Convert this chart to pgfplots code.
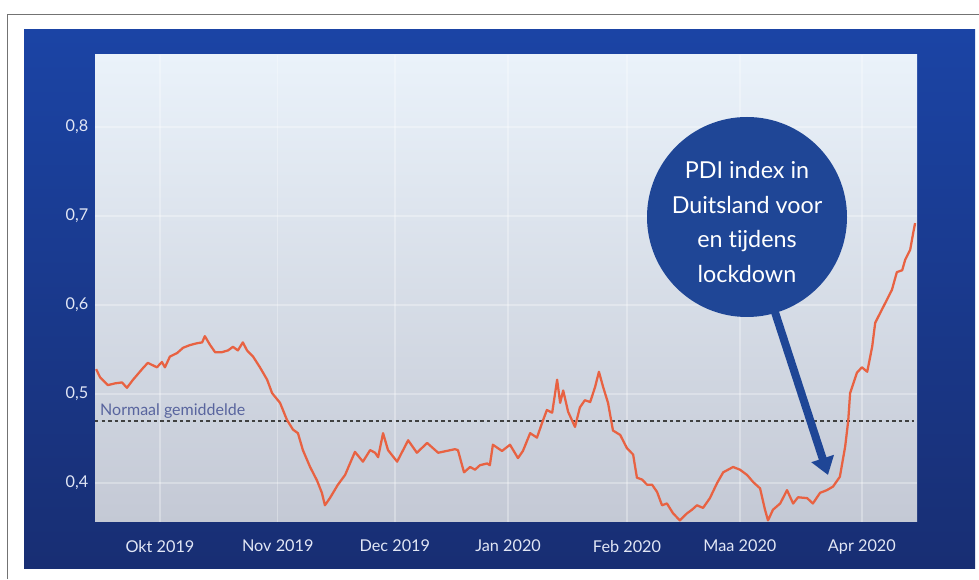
\documentclass[border=0pt]{standalone}
\usepackage{pgfplots}
\pgfplotsset{compat=1.18}
\usepackage{pgfplotstable}
\usepackage{fontspec}
\setmainfont{Lato}[Ligatures=NoCommon]
\usetikzlibrary{arrows.meta}

\definecolor{panelTop}{RGB}{27,68,165}
\definecolor{panelBot}{RGB}{24,46,115}
\definecolor{plotTop}{RGB}{234,242,250}
\definecolor{plotMid}{RGB}{223,230,241}
\definecolor{plotBot}{RGB}{196,201,213}
\definecolor{pdiline}{RGB}{232,98,66}
\definecolor{callout}{RGB}{31,70,150}
\definecolor{ticktext}{RGB}{225,230,245}
\definecolor{avgtext}{RGB}{88,100,158}

% days counted from 1 Oct 2019
\pgfplotstableread{
day pdi
-16.8 0.528
-15.8 0.519
-13.7 0.510
-11.8 0.512
-10.0 0.513
-8.7 0.507
-7.1 0.516
-4.5 0.529
-3.2 0.535
-0.8 0.530
0.5 0.536
1.3 0.530
2.6 0.542
4.5 0.546
6.1 0.552
7.9 0.555
9.7 0.557
11.1 0.558
11.8 0.565
13.2 0.555
14.5 0.547
16.3 0.547
17.9 0.549
19.2 0.553
20.5 0.549
21.8 0.558
22.9 0.549
24.5 0.542
26.3 0.530
28.2 0.516
29.5 0.501
31.6 0.490
33.4 0.471
35.0 0.460
36.3 0.456
37.6 0.437
39.5 0.418
41.3 0.403
42.6 0.389
43.4 0.375
44.7 0.383
46.8 0.398
48.7 0.409
51.3 0.435
53.4 0.424
55.3 0.437
56.6 0.434
57.4 0.429
58.7 0.456
60.0 0.437
62.4 0.424
65.3 0.448
67.6 0.434
70.3 0.445
73.2 0.434
77.6 0.438
78.4 0.437
80.0 0.412
81.6 0.418
82.9 0.415
84.2 0.420
86.1 0.422
86.8 0.420
87.6 0.443
90.0 0.436
92.1 0.443
94.2 0.428
95.5 0.436
97.4 0.456
99.2 0.451
100.5 0.467
101.8 0.482
103.2 0.479
104.5 0.516
105.3 0.490
106.1 0.504
107.4 0.480
109.2 0.463
110.5 0.485
111.8 0.493
113.2 0.491
114.5 0.508
115.5 0.525
116.6 0.508
117.9 0.490
119.2 0.459
121.1 0.454
122.9 0.439
124.5 0.432
125.5 0.406
126.8 0.404
128.2 0.398
129.5 0.398
130.8 0.390
132.1 0.375
133.4 0.377
135.0 0.366
136.8 0.358
138.7 0.366
140.0 0.370
141.3 0.375
142.9 0.372
144.7 0.383
146.6 0.400
148.2 0.412
150.8 0.418
152.6 0.415
154.5 0.409
156.1 0.401
157.9 0.394
159.2 0.370
160.0 0.358
161.3 0.370
163.2 0.377
165.0 0.392
166.6 0.377
167.9 0.384
170.3 0.383
171.8 0.377
173.7 0.389
175.5 0.392
177.1 0.396
178.9 0.407
180.3 0.441
181.1 0.470
181.6 0.501
183.4 0.524
184.7 0.530
186.1 0.525
187.4 0.553
188.2 0.580
189.5 0.591
191.3 0.606
192.6 0.617
193.9 0.637
195.3 0.639
196.1 0.651
197.4 0.662
198.2 0.681
198.7 0.692
}\pditable

\begin{document}
\begin{tikzpicture}[x=0.75pt,y=0.75pt]
\path[use as bounding box] (0,0) rectangle (979,579);
\fill[white] (0,0) rectangle (979,579);
\draw[black!55, line width=0.6pt] (7,0) -- (7,565) -- (979,565);
\shade[top color=panelTop, bottom color=panelBot] (24,11) rectangle (975,549);

\begin{axis}[
    at={(71.25pt,42.75pt)}, anchor=south west,
    scale only axis,
    width=616.5pt, height=350.25pt,
    xmin=-17.1, xmax=199.2,
    ymin=0.3562, ymax=0.8809,
    axis line style={draw=none},
    tick style={draw=none},
    axis background/.style={top color=plotTop, middle color=plotMid, bottom color=plotBot},
    xtick={0,31,61.8,91.6,122.9,152.6,184.7},
    xticklabels={Okt 2019,Nov 2019,Dec 2019,Jan 2020,Feb 2020,Maa 2020,Apr 2020},
    ytick={0.4,0.5,0.6,0.7,0.8},
    yticklabels={{0,4},{0,5},{0,6},{0,7},{0,8}},
    ticklabel style={text=ticktext, font=\fontsize{12.2}{14}\selectfont},
    xticklabel style={yshift=-10pt},
    yticklabel style={xshift=-1.5pt},
    xmajorgrids, ymajorgrids,
    major grid style={white, line width=1pt, opacity=0.3},
    clip=false,
]
\addplot[black!75, line width=1.3pt, dash pattern=on 2.6pt off 2.3pt] coordinates {(-17.1,0.47) (198.5,0.47)};
\addplot[pdiline, line width=1.7pt, line join=round] table[x=day, y=pdi] {\pditable};
\node[anchor=base west, text=avgtext, font=\fontsize{12}{14}\selectfont, inner sep=0pt]
    at (axis cs:-15.8,0.476) {Normaal gemiddelde};
\end{axis}

\fill[callout] (747,362) circle (75pt);
\node[text=white, align=center, font=\fontsize{17.5}{26}\selectfont] at (747,357)
    {PDI index in\\Duitsland voor\\en tijdens\\lockdown};
\draw[callout, line width=6pt, -{Triangle[width=17pt,length=13pt]}] (771,279) -- (828,104);
\end{tikzpicture}
\end{document}
